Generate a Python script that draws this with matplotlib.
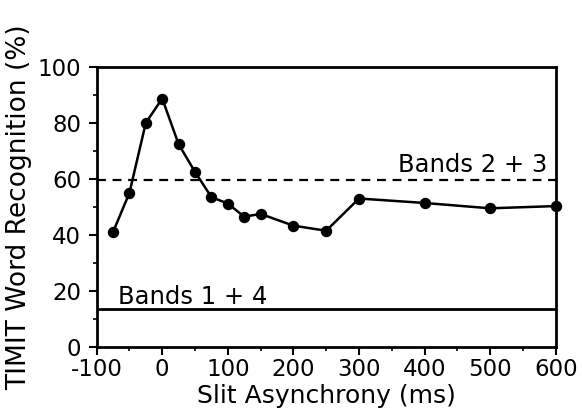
import matplotlib
matplotlib.use("Agg")
import matplotlib.pyplot as plt
from matplotlib.ticker import MultipleLocator

plt.rcParams['font.family'] = ['DejaVu Sans']
plt.rcParams['axes.unicode_minus'] = False

asynchrony = [-75, -50, -25, 0, 25, 50, 75, 100, 125, 150, 200, 250, 300, 400, 500, 600]
recognition = [41, 55, 80, 88.7, 72.4, 62.5, 53.5, 51.2, 46.5, 47.5, 43.3, 41.5, 53, 51.4, 49.5, 50.3]
bands23_level = 59.6
bands14_level = 13.6
bands23_label = "Bands 2 + 3"
bands14_label = "Bands 1 + 4"

fig = plt.figure(figsize=(5.82, 4.18), dpi=100)
ax = fig.add_axes([0.166, 0.170, 0.789, 0.670])

ax.axhline(bands23_level, color='black', lw=1.6, ls=(0, (4, 3)))
ax.axhline(bands14_level, color='black', lw=2.0)
ax.plot(asynchrony, recognition, color='black', lw=1.8, marker='o', ms=7.2,
        clip_on=False, zorder=3)

ax.text(587, 62.3, bands23_label, ha='right', va='baseline', fontsize=17.5)
ax.text(-67.5, 15.5, bands14_label, ha='left', va='baseline', fontsize=17.5)

ax.set_xlim(-100, 600)
ax.set_ylim(0, 100)
ax.xaxis.set_major_locator(MultipleLocator(100))
ax.xaxis.set_minor_locator(MultipleLocator(50))
ax.yaxis.set_major_locator(MultipleLocator(20))
ax.yaxis.set_minor_locator(MultipleLocator(10))
ax.tick_params(which='major', direction='out', length=6, width=1.5, labelsize=16.5)
ax.tick_params(axis='x', which='major', pad=2)
ax.tick_params(axis='y', which='major', pad=5)
ax.tick_params(which='minor', direction='out', length=3, width=1.2)
for s in ax.spines.values():
    s.set_linewidth(2)

ax.set_xlabel("Slit Asynchrony (ms)", fontsize=18, labelpad=2)
ax.set_ylabel("TIMIT Word Recognition (%)", fontsize=19, labelpad=4)

fig.savefig("out.png", dpi=100)
